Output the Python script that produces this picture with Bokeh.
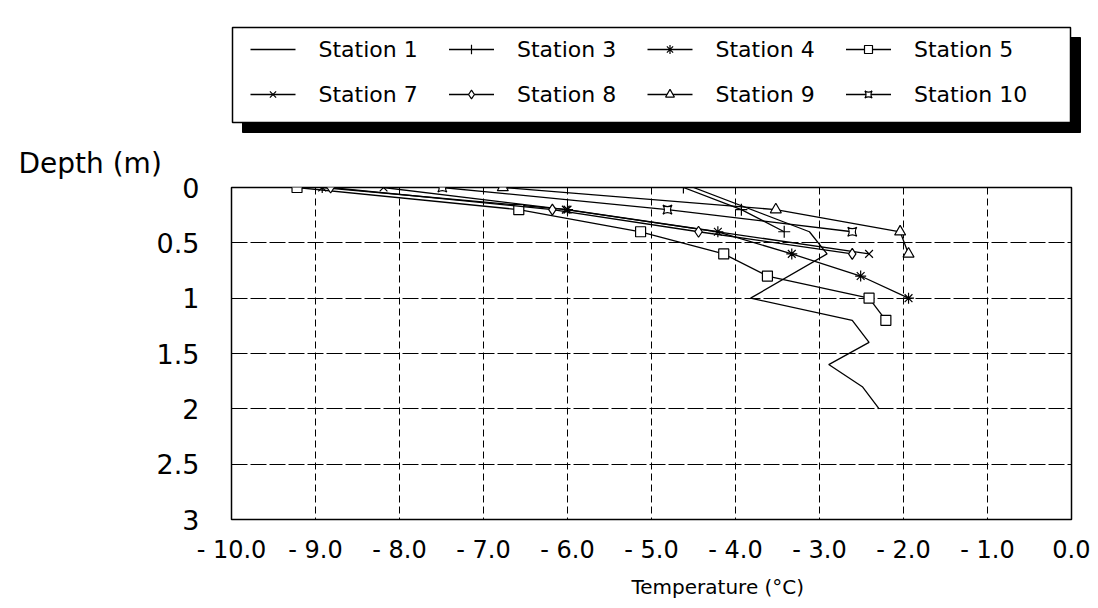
from bokeh.plotting import figure
from bokeh.models import Range1d, FixedTicker, Title
from bokeh.layouts import column
from bokeh.embed import file_html
from bokeh.resources import INLINE
from bokeh.core.properties import value

# ---------------- data ----------------
stations = ["Station 1", "Station 3", "Station 4", "Station 5",
            "Station 7", "Station 8", "Station 9", "Station 10"]

depth_s1 = [0.0, 0.4, 0.6, 1.0, 1.2, 1.4, 1.6, 1.8, 2.0]
temp_s1 = [-4.50, -3.12, -2.91, -3.82, -2.61, -2.41, -2.89, -2.49, -2.29]

depth_s3 = [0.0, 0.2, 0.4]
temp_s3 = [-4.62, -3.93, -3.42]

depth_s4 = [0.0, 0.2, 0.4, 0.6, 0.8, 1.0]
temp_s4 = [-8.92, -6.00, -4.21, -3.33, -2.51, -1.94]

depth_s5 = [0.0, 0.2, 0.4, 0.6, 0.8, 1.0, 1.2]
temp_s5 = [-9.22, -6.58, -5.13, -4.14, -3.62, -2.41, -2.21]

depth_s7 = [0.0, 0.2, 0.6]
temp_s7 = [-8.19, -6.02, -2.41]

depth_s8 = [0.0, 0.2, 0.4, 0.6]
temp_s8 = [-8.82, -6.18, -4.44, -2.61]

depth_s9 = [0.0, 0.2, 0.4, 0.6]
temp_s9 = [-6.77, -3.52, -2.04, -1.94]

depth_s10 = [0.0, 0.2, 0.4]
temp_s10 = [-7.49, -4.81, -2.61]

x_ticks = [-10, -9, -8, -7, -6, -5, -4, -3, -2, -1, 0]
x_tick_labels = ["- 10.0", "- 9.0", "- 8.0", "- 7.0", "- 6.0", "- 5.0",
                 "- 4.0", "- 3.0", "- 2.0", "- 1.0", "0.0"]
y_ticks = [0, 0.5, 1, 1.5, 2, 2.5, 3]
y_tick_labels = ["0", "0.5", "1", "1.5", "2", "2.5", "3"]

series_temps = [temp_s1, temp_s3, temp_s4, temp_s5, temp_s7, temp_s8, temp_s9, temp_s10]
series_depths = [depth_s1, depth_s3, depth_s4, depth_s5, depth_s7, depth_s8, depth_s9, depth_s10]

# ---------------- styles ----------------
FONT = "DejaVu Sans"
markers = [None, "cross", "asterisk", "square", "x", "diamond", "triangle", "square_pin"]
msizes = [0, 12, 11, 10, 11, 11, 11, 9]

# ---------------- legend panel (page pixel coordinates) ----------------
lg = figure(width=1090, height=133, x_range=Range1d(0, 1090), y_range=Range1d(133, 0),
            output_backend="svg", toolbar_location=None, min_border=0,
            x_axis_type=None, y_axis_type=None)
lg.outline_line_color = None
lg.grid.visible = False
lg.background_fill_color = "white"
lg.border_fill_color = "white"

# shadow then box
lg.quad(left=[242], right=[1080], top=[37], bottom=[132], fill_color="black", line_color="black")
lg.quad(left=[232], right=[1070], top=[27], bottom=[122], fill_color="white",
        line_color="black", line_width=1.5)

for i, name in enumerate(stations):
    col = i % 4
    row = i // 4
    x0 = 250 + 198.5 * col
    y0 = 49 + 45 * row
    lg.line([x0, x0 + 45], [y0, y0], line_color="black", line_width=1.3)
    if markers[i] is not None:
        lg.scatter([x0 + 22.5], [y0], marker=markers[i], size=msizes[i] * 0.8,
                   line_color="black", fill_color="white", line_width=1.2)
    lg.text([x0 + 68], [y0], text=[name], text_font=value(FONT), text_font_size="22px",
            text_align="left", text_baseline="middle", text_color="black")

# ---------------- main chart ----------------
p = figure(width=1090, height=472, x_range=Range1d(-10, 0), y_range=Range1d(3, 0),
           output_backend="svg", toolbar_location=None,
           min_border_left=231, min_border_right=19, min_border_top=54, min_border_bottom=86)
p.background_fill_color = "white"
p.border_fill_color = "white"
p.outline_line_color = "black"
p.outline_line_width = 1.5

for fig in (lg, p):
    if hasattr(fig, "frame_align"):
        fig.frame_align = False

p.title.text = "Depth (m)"
p.title.align = "left"
p.title.offset = -213
p.title.standoff = 16
p.title.text_font = FONT
p.title.text_font_size = "28px"
p.title.text_font_style = "normal"
p.title.text_color = "black"

p.xaxis.ticker = FixedTicker(ticks=x_ticks)
p.xaxis.major_label_overrides = {t: l for t, l in zip(x_ticks, x_tick_labels)}
p.yaxis.ticker = FixedTicker(ticks=y_ticks)
p.yaxis.major_label_overrides = {t: l for t, l in zip(y_ticks, y_tick_labels)}

for ax in (p.xaxis[0], p.yaxis[0]):
    ax.axis_line_color = None
    ax.major_tick_line_color = None
    ax.minor_tick_line_color = None
    ax.major_label_text_font = FONT
    ax.major_label_text_color = "black"

p.xaxis.major_label_text_font_size = "24px"
p.xaxis.major_label_standoff = 10
p.yaxis.major_label_text_font_size = "27px"
p.yaxis.major_label_standoff = 26

p.add_layout(Title(text="Temperature (°C)", align="left", offset=400,
                   text_font=FONT, text_font_size="20px", text_font_style="normal",
                   text_color="black", standoff=12), "below")

p.xgrid.ticker = FixedTicker(ticks=x_ticks[1:-1])
p.ygrid.ticker = FixedTicker(ticks=y_ticks[1:-1])
p.xgrid.grid_line_color = "black"
p.xgrid.grid_line_dash = "7 4"
p.xgrid.grid_line_width = 1
p.ygrid.grid_line_color = "black"
p.ygrid.grid_line_dash = "16 3"
p.ygrid.grid_line_width = 1

for i in range(len(stations)):
    p.line(series_temps[i], series_depths[i], line_color="black", line_width=1.3)
    if markers[i] is not None:
        p.scatter(series_temps[i], series_depths[i], marker=markers[i], size=msizes[i],
                  line_color="black", fill_color="white", line_width=1.2)

layout = column(lg, p)
open("out.html", "w").write(file_html(layout, INLINE))
